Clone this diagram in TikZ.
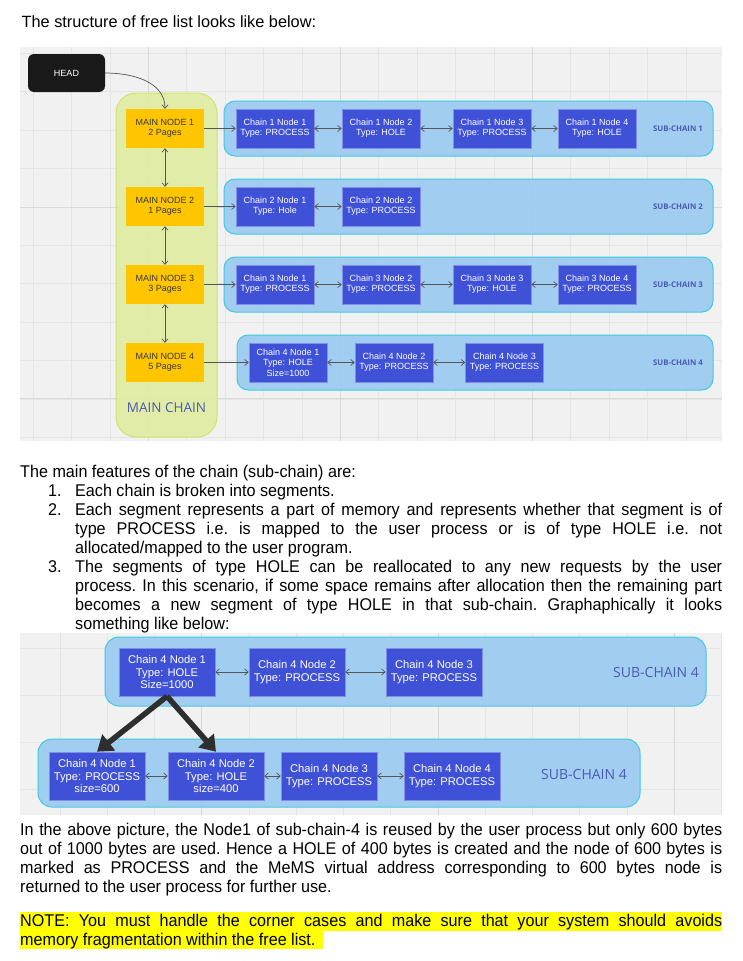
\documentclass[tikz,border=0pt]{standalone}
\usepackage{fontspec}
\setmainfont{Liberation Sans}
\newfontfamily\bodyfont[FakeStretch=0.95]{Liberation Sans}
\newfontfamily\osfont{Open Sans}
\usetikzlibrary{arrows.meta}
\definecolor{bgc}{HTML}{F1F1F1}
\definecolor{gridc}{HTML}{E5E5E5}
\definecolor{gridm}{HTML}{D9D9D9}
\definecolor{nodeblue}{HTML}{3F51D7}
\definecolor{scfill}{HTML}{99CAF0}
\definecolor{scdraw}{HTML}{3ECBE0}
\definecolor{mcfill}{HTML}{DFECA1}
\definecolor{mcdraw}{HTML}{D2E36B}
\definecolor{mnfill}{HTML}{FFC600}
\definecolor{lblblue}{HTML}{4A5BB3}
\definecolor{arrgray}{HTML}{555555}
\definecolor{hl}{HTML}{FFFF00}
\newcommand\myjust[2]{\makebox[#1][s]{#2}}
\begin{document}
\begin{tikzpicture}[x=1pt,y=-1pt,
  mnode/.style={fill=mnfill, minimum width=78pt, minimum height=39pt, inner sep=0pt, align=center, text=black!78, font=\fontsize{9}{10.3}\selectfont},
  cnode/.style={fill=nodeblue, draw=nodeblue!65!white, line width=0.6pt, minimum width=78pt, minimum height=39pt, inner sep=0pt, align=center, text=white, font=\fontsize{9}{10.3}\selectfont},
  bnode/.style={cnode, minimum width=96pt, minimum height=48pt, font=\fontsize{11.2}{12.6}\selectfont},
  scpanel/.style={fill=scfill, fill opacity=0.9, draw=scdraw, draw opacity=1, line width=1pt, rounded corners=11pt},
  sclabel/.style={font=\osfont\bfseries\fontsize{7.8}{9}\selectfont, text=lblblue},
  sclabelb/.style={font=\osfont\fontsize{14}{16}\selectfont, text=lblblue},
  link/.style={draw=arrgray, line width=0.7pt, -{Straight Barb[length=3.5pt,width=6pt]}},
  dlink/.style={draw=arrgray, line width=0.7pt, {Straight Barb[length=3.5pt,width=6pt]}-{Straight Barb[length=3.5pt,width=6pt]}},
  fat/.style={draw=black!82, line width=5.5pt, -{Triangle[length=15pt,width=20pt]}},
  btext/.style={anchor=base west, inner sep=0pt, font=\bodyfont\fontsize{17}{19}\selectfont\frenchspacing},
  ttext/.style={anchor=base west, inner sep=0pt, font=\fontsize{16.3}{19}\selectfont\frenchspacing}
]
\useasboundingbox (0,0) rectangle (743,961);
\fill[white] (0,0) rectangle (743,961);

% title
\node[ttext] (title) at (21.5,27.7) {The structure of free list looks like below:};

% ---------- top diagram background ----------
\begin{scope}
\clip (20,47) rectangle (722,441);
\fill[bgc] (20,47) rectangle (722,441);
\foreach \k in {0,...,18} \draw[gridc, line width=0.8pt] ({33.2+38.4*\k},47) -- ++(0,394);
\foreach \k in {0,...,10} \draw[gridc, line width=0.8pt] (20,{53.4+38.4*\k}) -- ++(702,0);
\foreach \xx in {148,340,532} \draw[gridm, line width=0.8pt] (\xx,47) -- ++(0,394);
\foreach \yy in {207,398.6} \draw[gridm, line width=0.8pt] (20,\yy) -- ++(702,0);
\end{scope}

% main chain panel
\draw[fill=mcfill, fill opacity=0.9, draw=mcdraw, line width=1pt, rounded corners=20pt] (116,93) rectangle (217,437);
\node[font=\osfont\fontsize{13.5}{15}\selectfont, text=lblblue] (mclbl) at (166.5,408) {MAIN CHAIN};

% head
\node[fill=black!90, rounded corners=6pt, minimum width=77pt, minimum height=38pt, inner sep=0pt, text=white, font=\fontsize{9}{10}\selectfont] (head) at (66.5,73) {HEAD};

% sub-chain panels
\draw[scpanel] (224,101) rectangle (713,156);
\draw[scpanel] (224,179) rectangle (713,234);
\draw[scpanel] (224,257) rectangle (713,312);
\draw[scpanel] (237,335) rectangle (713,390);
\node[sclabel] (sl1) at (678,128.5) {SUB-CHAIN 1};
\node[sclabel] (sl2) at (678,206.5) {SUB-CHAIN 2};
\node[sclabel] (sl3) at (678,284.5) {SUB-CHAIN 3};
\node[sclabel] (sl4) at (678,362.5) {SUB-CHAIN 4};

% main nodes
\node[mnode] (m1) at (165,128.5) {MAIN NODE 1\\2 Pages};
\node[mnode] (m2) at (165,206.5) {MAIN NODE 2\\1 Pages};
\node[mnode] (m3) at (165,284.5) {MAIN NODE 3\\3 Pages};
\node[mnode] (m4) at (165,362.5) {MAIN NODE 4\\5 Pages};

% chain nodes
\node[cnode] (c11) at (275,128.5) {Chain 1 Node 1\\Type: PROCESS};
\node[cnode] (c12) at (381,128.5) {Chain 1 Node 2\\Type: HOLE};
\node[cnode] (c13) at (492,128.5) {Chain 1 Node 3\\Type: PROCESS};
\node[cnode] (c14) at (597,128.5) {Chain 1 Node 4\\Type: HOLE};
\node[cnode] (c21) at (275,206.5) {Chain 2 Node 1\\Type: Hole};
\node[cnode] (c22) at (381,206.5) {Chain 2 Node 2\\Type: PROCESS};
\node[cnode] (c31) at (275,284.5) {Chain 3 Node 1\\Type: PROCESS};
\node[cnode] (c32) at (381,284.5) {Chain 3 Node 2\\Type: PROCESS};
\node[cnode] (c33) at (492,284.5) {Chain 3 Node 3\\Type: HOLE};
\node[cnode] (c34) at (597,284.5) {Chain 3 Node 4\\Type: PROCESS};
\node[cnode] (c41) at (288,362.5) {Chain 4 Node 1\\Type: HOLE\\Size=1000};
\node[cnode] (c42) at (394,362.5) {Chain 4 Node 2\\Type: PROCESS};
\node[cnode] (c43) at (504.5,362.5) {Chain 4 Node 3\\Type: PROCESS};

% connectors
\draw[link] (head.east) to[out=0,in=90] (m1.north);
\draw[dlink] (m1) -- (m2);
\draw[dlink] (m2) -- (m3);
\draw[dlink] (m3) -- (m4);
\draw[link] (m1) -- (c11);
\draw[link] (m2) -- (c21);
\draw[link] (m3) -- (c31);
\draw[link] (m4) -- (c41);
\draw[dlink] (c11) -- (c12);
\draw[dlink] (c12) -- (c13);
\draw[dlink] (c13) -- (c14);
\draw[dlink] (c21) -- (c22);
\draw[dlink] (c31) -- (c32);
\draw[dlink] (c32) -- (c33);
\draw[dlink] (c33) -- (c34);
\draw[dlink] (c41) -- (c42);
\draw[dlink] (c42) -- (c43);

% ---------- middle text ----------
\node[btext] (p1) at (20,477) {The main features of the chain (sub-chain) are:};
\node[btext] (n1) at (48,496.1) {1.};
\node[btext] (l1) at (75,496.1) {Each chain is broken into segments.};
\node[btext] (n2) at (48,515.2) {2.};
\node[btext] (l2) at (75,515.2) {\myjust{647pt}{Each segment represents a part of memory and represents whether that segment is of}};
\node[btext] (l3) at (75,534.3) {\myjust{647pt}{type PROCESS i.e. is mapped to the user process or is of type HOLE i.e. not}};
\node[btext] (l4) at (75,553.4) {allocated/mapped to the user program.};
\node[btext] (n3) at (48,572.5) {3.};
\node[btext] (l5) at (75,572.5) {\myjust{647pt}{The segments of type HOLE can be reallocated to any new requests by the user}};
\node[btext] (l6) at (75,591.6) {\myjust{647pt}{process. In this scenario, if some space remains after allocation then the remaining part}};
\node[btext] (l7) at (75,610.7) {\myjust{647pt}{becomes a new segment of type HOLE in that sub-chain. Graphaphically it looks}};
\node[btext] (l8) at (75,629.5) {something like below:};

% ---------- bottom diagram ----------
\begin{scope}
\clip (20,633) rectangle (722,815);
\fill[bgc] (20,633) rectangle (722,815);
\foreach \k in {-1,...,14} \draw[gridc, line width=0.8pt] ({60+47.25*\k},633) -- ++(0,182);
\foreach \k in {0,...,3} \draw[gridc, line width=0.8pt] (20,{648+47.25*\k}) -- ++(702,0);
\foreach \xx in {201.75,438,674.25} \draw[gridm, line width=0.8pt] (\xx,633) -- ++(0,182);
\end{scope}

\draw[scpanel, rounded corners=14pt] (105,637) rectangle (706,706);
\draw[scpanel, rounded corners=14pt] (38,739) rectangle (640,807);
\node[sclabelb] (bl1) at (656,672) {SUB-CHAIN 4};
\node[sclabelb] (bl2) at (584,774) {SUB-CHAIN 4};

\node[bnode] (a1) at (167,672) {Chain 4 Node 1\\Type: HOLE\\Size=1000};
\node[bnode] (a2) at (297,672) {Chain 4 Node 2\\Type: PROCESS};
\node[bnode] (a3) at (434,672) {Chain 4 Node 3\\Type: PROCESS};
\node[bnode] (b1) at (97,776) {Chain 4 Node 1\\Type: PROCESS\\size=600};
\node[bnode] (b2) at (216,776) {Chain 4 Node 2\\Type: HOLE\\size=400};
\node[bnode] (b3) at (329,776) {Chain 4 Node 3\\Type: PROCESS};
\node[bnode] (b4) at (452,776) {Chain 4 Node 4\\Type: PROCESS};

\draw[dlink] (a1) -- (a2);
\draw[dlink] (a2) -- (a3);
\draw[dlink] (b1) -- (b2);
\draw[dlink] (b2) -- (b3);
\draw[dlink] (b3) -- (b4);
\draw[fat] (a1.south) -- (b1.north);
\draw[fat] (a1.south) -- (b2.north);

% ---------- bottom text ----------
\fill[hl] (20,912) rectangle (722,930.5);
\fill[hl] (20,930.5) rectangle (323,948.5);
\node[btext] (q1) at (20,835) {\myjust{702pt}{In the above picture, the Node1 of sub-chain-4 is reused by the user process but only 600 bytes}};
\node[btext] (q2) at (20,854) {\myjust{702pt}{out of 1000 bytes are used. Hence a HOLE of 400 bytes is created and the node of 600 bytes is}};
\node[btext] (q3) at (20,873) {\myjust{702pt}{marked as PROCESS and the MeMS virtual address corresponding to 600 bytes node is}};
\node[btext] (q4) at (20,892) {returned to the user process for further use.};
\node[btext] (q5) at (20,926.5) {\myjust{702pt}{NOTE: You must handle the corner cases and make sure that your system should avoids}};
\node[btext] (q6) at (20,945.5) {memory fragmentation within the free list.};
\end{tikzpicture}
\end{document}
